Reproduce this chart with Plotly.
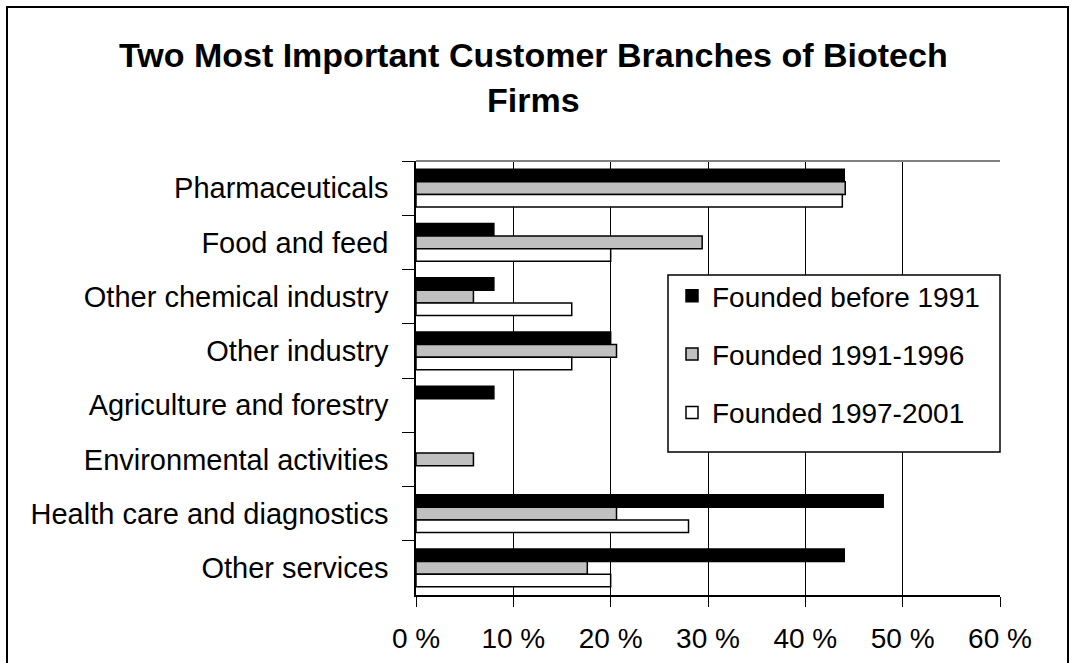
import plotly.graph_objects as go

categories = [
    "Pharmaceuticals",
    "Food and feed",
    "Other chemical industry",
    "Other industry",
    "Agriculture and forestry",
    "Environmental activities",
    "Health care and diagnostics",
    "Other services",
]

# None = branch not named by that cohort (no bar drawn)
before_1991 = [44.0, 8.0, 8.0, 20.0, 8.0, None, 48.0, 44.0]
from_1991_1996 = [44.1, 29.4, 5.9, 20.6, None, 5.9, 20.6, 17.6]
from_1997_2001 = [43.8, 20.0, 16.0, 16.0, None, None, 28.0, 20.0]

series_names = ["Founded before 1991", "Founded 1991-1996", "Founded 1997-2001"]
series_colors = ["#000000", "#c0c0c0", "#ffffff"]

x_ticks = [0, 10, 20, 30, 40, 50, 60]
x_tick_labels = [f"{t} %" for t in x_ticks]

W, H = 1074, 663
L, R, T, B = 416, 74, 161, 68

fig = go.Figure()

for name, vals, col in zip(series_names,
                           [before_1991, from_1991_1996, from_1997_2001],
                           series_colors):
    fig.add_trace(
        go.Bar(
            y=categories,
            x=vals,
            name=name,
            orientation="h",
            legendgroup=name,
            marker={"color": col, "line": {"color": "#000000", "width": 1.5}},
        )
    )

pw = W - L - R
ph = H - T - B

# outer chart frame (runs off the bottom edge like the original)
fig.add_shape(
    type="rect", xref="paper", yref="paper",
    x0=(7 - L) / pw, x1=(1068 - L) / pw,
    y0=-(B + 10) / ph, y1=1 + (T - 7) / ph,
    line={"color": "#000000", "width": 2},
    layer="below",
)
# plot area border on top
fig.add_shape(
    type="line", xref="paper", yref="paper",
    x0=0, x1=1, y0=1, y1=1,
    line={"color": "#808080", "width": 2},
)
# legend box (drawn as a shape so it can be as wide as the original)
fig.add_shape(
    type="rect", xref="paper", yref="paper",
    x0=(668 - L) / pw, x1=(1000 - L) / pw,
    y0=(H - B - 452) / ph, y1=(H - B - 275) / ph,
    line={"color": "#000000", "width": 1.5},
    fillcolor="#ffffff",
    layer="above",
)

title_font = {"family": "Liberation Sans, Arial", "size": 34, "color": "#000000"}
fig.add_annotation(
    text="<b>Two Most Important Customer Branches of Biotech</b>",
    xref="paper", yref="paper",
    x=(533 - L) / pw, y=1 + (T - 55) / ph,
    xanchor="center", yanchor="middle", showarrow=False,
    font=title_font,
)
fig.add_annotation(
    text="<b>Firms</b>",
    xref="paper", yref="paper",
    x=(533 - L) / pw, y=1 + (T - 100) / ph,
    xanchor="center", yanchor="middle", showarrow=False,
    font=title_font,
)

fig.update_layout(
    width=W,
    height=H,
    margin={"l": L, "r": R, "t": T, "b": B, "autoexpand": False},
    paper_bgcolor="#ffffff",
    plot_bgcolor="#ffffff",
    barmode="group",
    bargap=0.3,
    bargroupgap=0,
    font={"family": "Liberation Sans, Arial", "size": 29, "color": "#000000"},
    legend={
        "x": (672 - L) / pw,
        "y": (H - B - 271) / ph,
        "xanchor": "left",
        "yanchor": "top",
        "bgcolor": "rgba(0,0,0,0)",
        "borderwidth": 0,
        "tracegroupgap": 19,
        "traceorder": "grouped",
        "font": {"size": 28},
    },
)

fig.update_xaxes(
    range=[0, 60],
    tickvals=x_ticks,
    ticktext=x_tick_labels,
    tickfont={"size": 28},
    showgrid=True,
    gridcolor="#000000",
    gridwidth=1,
    showline=True,
    linecolor="#000000",
    linewidth=1.5,
    ticks="outside",
    ticklen=10,
    tickcolor="#000000",
    ticklabelstandoff=8,
    zeroline=False,
)

fig.update_yaxes(
    autorange="reversed",
    showline=True,
    linecolor="#000000",
    linewidth=1.5,
    ticks="outside",
    tickson="boundaries",
    ticklen=12,
    tickcolor="#000000",
    ticklabelstandoff=20,
    showgrid=False,
)

fig.write_html(
    "out.html",
    config={"displayModeBar": False},
    post_script="document.body.style.margin='0';",
)
